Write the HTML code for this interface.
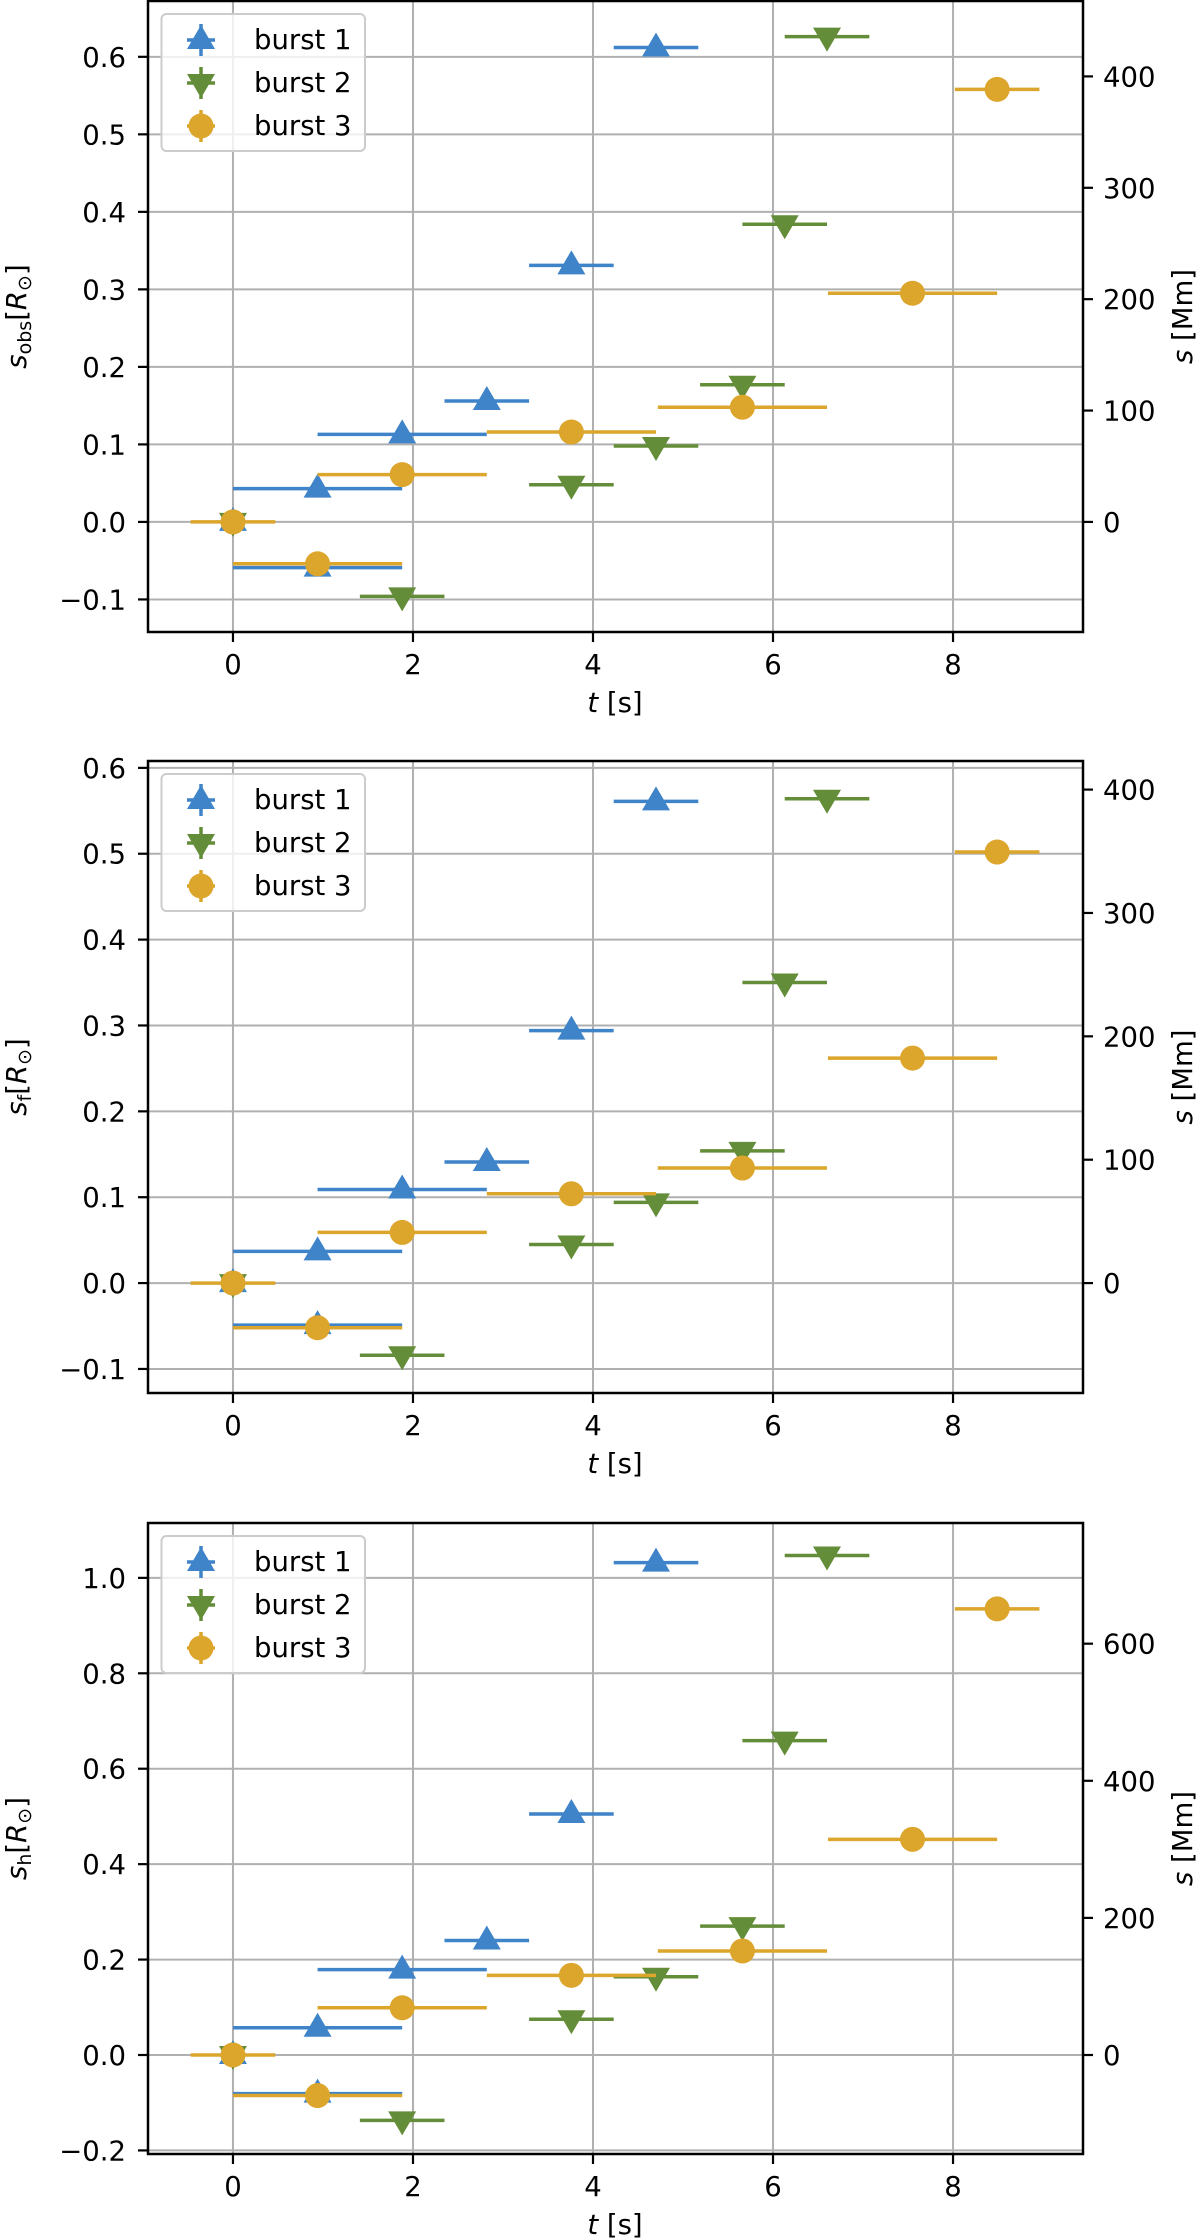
<!DOCTYPE html>
<html><head><meta charset="utf-8"><style>
html,body{margin:0;padding:0;background:#fff}
svg{display:block}
text{font-family:"DejaVu Sans","Liberation Sans",sans-serif;fill:#000}
</style></head><body>
<svg id="fig" width="1200" height="2240" viewBox="0 0 1200 2240" xmlns="http://www.w3.org/2000/svg"></svg>
<script>
// ---- data ----
const xTicks = [0, 2, 4, 6, 8];
const seriesNames = ["burst 1", "burst 2", "burst 3"];
// burst 1 (blue, triangle up)
const b1T    = [0, 0.94, 0.94, 1.88, 2.82, 3.76, 4.70];
const b1Xerr = [0, 0.94, 0.94, 0.94, 0.47, 0.47, 0.47];
const b1Obs  = [0, -0.059, 0.043, 0.113, 0.156, 0.331, 0.612];
const b1F    = [0, -0.049, 0.037, 0.109, 0.141, 0.294, 0.561];
const b1H    = [0, -0.081, 0.057, 0.179, 0.240, 0.505, 1.032];
// burst 2 (green, triangle down)
const b2T    = [0, 1.88, 3.76, 4.70, 5.66, 6.13, 6.60];
const b2Xerr = [0, 0.47, 0.47, 0.47, 0.47, 0.47, 0.47];
const b2Obs  = [0, -0.096, 0.048, 0.098, 0.177, 0.384, 0.626];
const b2F    = [0, -0.084, 0.045, 0.094, 0.154, 0.350, 0.564];
const b2H    = [0, -0.137, 0.075, 0.164, 0.270, 0.659, 1.047];
// burst 3 (orange, circle)
const b3T    = [0, 0.94, 1.88, 3.76, 5.66, 7.55, 8.49];
const b3Xerr = [0.47, 0.94, 0.94, 0.94, 0.94, 0.94, 0.47];
const b3Obs  = [0, -0.054, 0.061, 0.116, 0.148, 0.295, 0.558];
const b3F    = [0, -0.052, 0.059, 0.104, 0.134, 0.262, 0.502];
const b3H    = [0, -0.085, 0.099, 0.167, 0.218, 0.452, 0.935];
const yTicks1 = ["-0.1","0.0","0.1","0.2","0.3","0.4","0.5","0.6"];
const yTicks2 = ["-0.1","0.0","0.1","0.2","0.3","0.4","0.5","0.6"];
const yTicks3 = ["-0.2","0.0","0.2","0.4","0.6","0.8","1.0"];
const rTicks1 = [0, 100, 200, 300, 400];
const rTicks2 = [0, 100, 200, 300, 400];
const rTicks3 = [0, 200, 400, 600];
const RSUN_MM = 696;

const NS = "http://www.w3.org/2000/svg";
const svg = document.getElementById('fig');
function mk(tag, attrs, parent){
  const e = document.createElementNS(NS, tag);
  for (const k in attrs) e.setAttribute(k, attrs[k]);
  (parent||svg).appendChild(e);
  return e;
}
const COLORS = ["#3f84c8", "#648d39", "#dca52b"];
const FS = 27.5;
const X0 = 148, X1 = 1083, XMIN = -0.944, XMAX = 9.444;
const xs = v => X0 + (v - XMIN) / (XMAX - XMIN) * (X1 - X0);

function marker(g, kind, cx, cy, color){
  let m;
  if (kind === 0) m = mk('polygon', {points:`${cx-14},${cy+9} ${cx+14},${cy+9} ${cx},${cy-15}`, fill:color}, g);
  else if (kind === 1) m = mk('polygon', {points:`${cx-14},${cy-9} ${cx+14},${cy-9} ${cx},${cy+15}`, fill:color}, g);
  else m = mk('circle', {cx:cx, cy:cy, r:12.5, fill:color}, g);
  return m;
}

const panels = [
  {top:1, bottom:632, ymin:-0.142, ymax:0.672, ticks:yTicks1, rt:rTicks1, sub:"obs", data:[b1Obs,b2Obs,b3Obs], name:'panel-obs'},
  {top:761, bottom:1393, ymin:-0.128, ymax:0.608, ticks:yTicks2, rt:rTicks2, sub:"f", data:[b1F,b2F,b3F], name:'panel-f'},
  {top:1523, bottom:2154, ymin:-0.2075, ymax:1.115, ticks:yTicks3, rt:rTicks3, sub:"h", data:[b1H,b2H,b3H], name:'panel-h'}
];
const Ts = [b1T, b2T, b3T], Xe = [b1Xerr, b2Xerr, b3Xerr];

panels.forEach(p => {
  const g = mk('g', {});
  
  
  const ys = v => p.bottom - (v - p.ymin) / (p.ymax - p.ymin) * (p.bottom - p.top);
  // grid
  const grid = mk('g', {stroke:'#b0b0b0', 'stroke-width':2}, g);
  
  
  xTicks.forEach(t => mk('line', {x1:xs(t), x2:xs(t), y1:p.top, y2:p.bottom}, grid));
  p.ticks.forEach(t => { const y = ys(parseFloat(t)); mk('line', {x1:X0, x2:X1, y1:y, y2:y}, grid); });
  // series
  for (let s = 0; s < 3; s++){
    const sg = mk('g', {}, g);
    
    
    const vals = p.data[s];
    for (let i = 0; i < vals.length; i++){
      const cx = xs(Ts[s][i]), cy = ys(vals[i]);
      if (Xe[s][i] > 0){
        const eb = mk('line', {x1:xs(Ts[s][i]-Xe[s][i]), x2:xs(Ts[s][i]+Xe[s][i]), y1:cy, y2:cy, stroke:COLORS[s], 'stroke-width':3.5}, sg);
        
        
      }
      const m = marker(sg, s, cx, cy, COLORS[s]);
      
      
    }
  }
  // spines
  const sp = mk('rect', {x:X0, y:p.top, width:X1-X0, height:p.bottom-p.top, fill:'none', stroke:'#000', 'stroke-width':2.5}, g);
  
  
  // x ticks
  const xa = mk('g', {}, g);
  
  
  xTicks.forEach(t => {
    mk('line', {x1:xs(t), x2:xs(t), y1:p.bottom, y2:p.bottom+10, stroke:'#000', 'stroke-width':2.2}, xa);
    const tx = mk('text', {x:xs(t), y:p.bottom+42, 'text-anchor':'middle', 'font-size':FS}, xa);
    tx.textContent = String(t);
  });
  const xl = mk('text', {x:615, y:p.bottom+80, 'text-anchor':'middle', 'font-size':FS}, xa);
  
  
  const ti = mk('tspan', {'font-style':'italic'}, xl); ti.textContent = 't';
  const tr = mk('tspan', {}, xl); tr.textContent = ' [s]';
  // y ticks left
  const ya = mk('g', {}, g);
  
  
  p.ticks.forEach(t => {
    const y = ys(parseFloat(t));
    mk('line', {x1:X0-10, x2:X0, y1:y, y2:y, stroke:'#000', 'stroke-width':2.2}, ya);
    const tx = mk('text', {x:126, y:y+10, 'text-anchor':'end', 'font-size':FS}, ya);
    tx.textContent = t.replace('-', '\u2212');
  });
  const cyL = (p.top + p.bottom)/2;
  const yl = mk('text', {x:0, y:0, 'text-anchor':'middle', 'font-size':FS, transform:`translate(26,${cyL}) rotate(-90)`}, ya);
  
  
  let a = mk('tspan', {'font-style':'italic'}, yl); a.textContent = 's';
  a = mk('tspan', {'font-size':19, dy:5}, yl); a.textContent = p.sub;
  a = mk('tspan', {dy:-5}, yl); a.textContent = '[';
  a = mk('tspan', {'font-style':'italic'}, yl); a.textContent = 'R';
  a = mk('tspan', {'font-size':19, dy:5}, yl); a.textContent = '\u2299';
  a = mk('tspan', {dy:-5}, yl); a.textContent = ']';
  // right axis
  const ra = mk('g', {}, g);
  
  
  p.rt.forEach(t => {
    const y = ys(t / RSUN_MM);
    mk('line', {x1:X1, x2:X1+10, y1:y, y2:y, stroke:'#000', 'stroke-width':2.2}, ra);
    const tx = mk('text', {x:1103, y:y+10, 'font-size':FS}, ra);
    tx.textContent = String(t);
  });
  const rl = mk('text', {x:0, y:0, 'text-anchor':'middle', 'font-size':FS, transform:`translate(1192,${cyL}) rotate(-90)`}, ra);
  
  
  a = mk('tspan', {'font-style':'italic'}, rl); a.textContent = 's';
  a = mk('tspan', {}, rl); a.textContent = ' [Mm]';
  // legend
  const lg = mk('g', {}, g);
  
  
  const lt = p.top + 13;
  mk('rect', {x:161.5, y:lt, width:203.5, height:137, rx:5, fill:'#fff', 'fill-opacity':0.8, stroke:'#cccccc', 'stroke-width':2}, lg);
  for (let s = 0; s < 3; s++){
    const le = mk('g', {}, lg);
    
    
    const cy = lt + 26 + s*43;
    mk('line', {x1:187, x2:215, y1:cy, y2:cy, stroke:COLORS[s], 'stroke-width':3.5}, le);
    mk('line', {x1:201, x2:201, y1:cy-16, y2:cy+16, stroke:COLORS[s], 'stroke-width':3.5}, le);
    marker(le, s, 201, cy, COLORS[s]);
    const tx = mk('text', {x:254, y:cy+9, 'font-size':FS}, le);
    tx.textContent = seriesNames[s];
  }
});
</script>
</body></html>
